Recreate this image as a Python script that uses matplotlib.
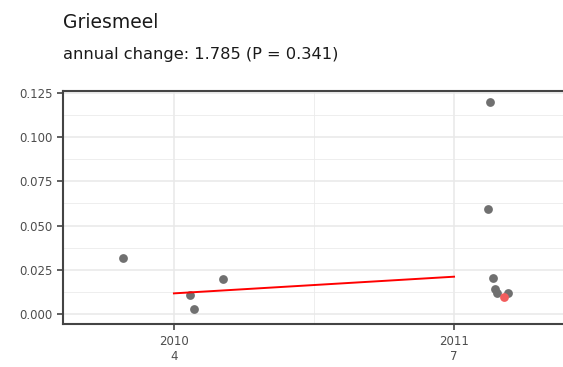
import numpy as np
import matplotlib
matplotlib.use("Agg")
import matplotlib.pyplot as plt
from matplotlib.ticker import MultipleLocator, FixedLocator

# data (decimal years)
years = [2009.817, 2010.058, 2010.071, 2010.174, 2011.128,
         2011.122, 2011.140, 2011.146, 2011.152, 2011.194]
values = [0.0316, 0.0109, 0.0028, 0.0197, 0.1199,
          0.0592, 0.0203, 0.0141, 0.0122, 0.0122]
last_year = [2011.178]
last_value = [0.0096]
trend_x = [2010.0, 2011.0]
trend_y = [0.0118, 0.0212]

xticks = [2010, 2011]
xlabels = ["2010\n4", "2011\n7"]
yticks = [0.000, 0.025, 0.050, 0.075, 0.100, 0.125]

W, H = 563, 367
fig = plt.figure(figsize=(W / 100, H / 100), dpi=100)
ax = fig.add_axes([63 / W, 1 - 324.3 / H, 1 - 63 / W, (324.3 - 91) / H])

ax.scatter(years, values, s=40, color="#707070", linewidths=0, zorder=3)
ax.plot(trend_x, trend_y, color="#ff0000", lw=1.4, zorder=4)
ax.scatter(last_year, last_value, s=40, color="#f25c5c", linewidths=0, zorder=5)

ax.set_xlim(2009.604, 2011.389)
ax.set_ylim(-0.00564, 0.1259)

ax.xaxis.set_major_locator(FixedLocator(xticks))
ax.set_xticklabels(xlabels, linespacing=1.25)
ax.xaxis.set_minor_locator(FixedLocator([2009.5, 2010.5, 2011.5]))
ax.yaxis.set_major_locator(FixedLocator(yticks))
ax.set_yticklabels([f"{v:.3f}" for v in yticks])
ax.yaxis.set_minor_locator(MultipleLocator(0.0125))

ax.set_axisbelow(True)
ax.grid(which="major", color="#e8e8e8", lw=1.1)
ax.grid(which="minor", color="#ebebeb", lw=0.6)

for side in ["left", "top", "bottom"]:
    ax.spines[side].set_color("#444444")
    ax.spines[side].set_linewidth(1.5)
ax.spines["right"].set_visible(False)

ax.tick_params(which="major", length=4.5, width=1.2, color="#444444",
               labelcolor="#4d4d4d", labelsize=8.5, pad=3)
ax.tick_params(which="minor", length=0)

fig.text(63 / W, 1 - 28 / H, "Griesmeel", fontsize=13.5, color="#1a1a1a",
         ha="left", va="baseline")
fig.text(63 / W, 1 - 59.5 / H, "annual change: 1.785 (P = 0.341)",
         fontsize=11.7, color="#1a1a1a", ha="left", va="baseline")

fig.savefig("out.png", dpi=100)
